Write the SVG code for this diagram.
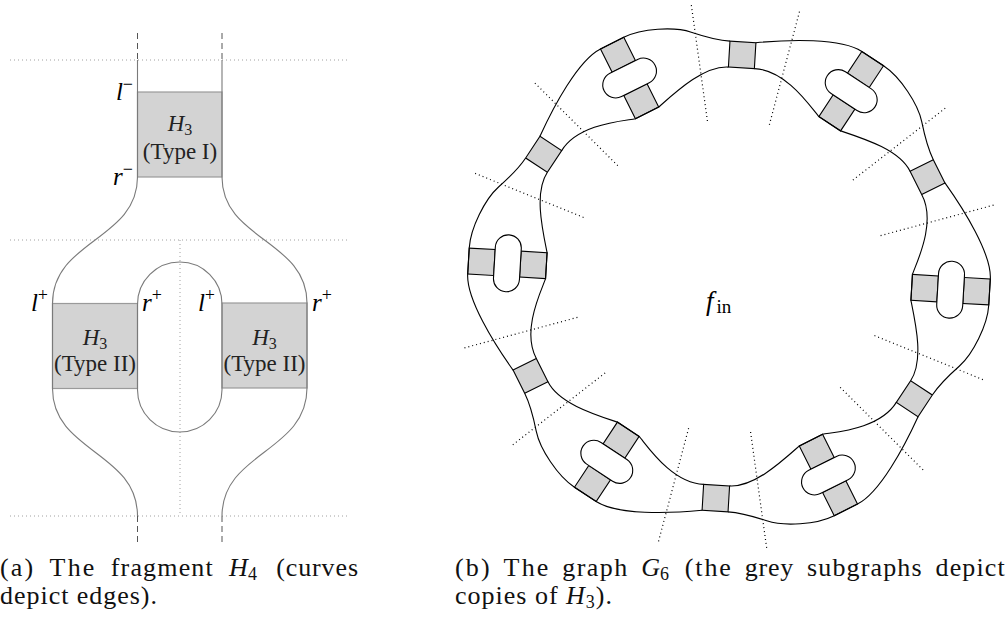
<svg xmlns="http://www.w3.org/2000/svg" width="1008" height="621" viewBox="0 0 1008 621">
<style>
.ldot{fill:none;stroke:#a0a0a0;stroke-width:1;stroke-dasharray:1 3}
.ledge{fill:none;stroke:#7a7a7a;stroke-width:1.1}
.ldash{fill:none;stroke:#555;stroke-width:1;stroke-dasharray:6 4}
.lbox{fill:#d3d3d3;stroke:#9a9a9a;stroke-width:1.2}
text{font-family:'Liberation Serif','Times New Roman','DejaVu Serif',serif;fill:#000}
.it{font-style:italic}
.boxt{font-size:23px;fill:#222}
.lab{font-size:25px}
.cap{font-size:26px;fill:#111}
.redge{fill:none;stroke:#000;stroke-width:1.1}
.rsq{fill:#d3d3d3;stroke:#000;stroke-width:1.1}
.roval{fill:#fff;stroke:#000;stroke-width:1.1}
.rdot{fill:none;stroke:#000;stroke-width:1.2;stroke-dasharray:1 3}
</style>
<defs>
<g id="sector">
<path class="rdot" d="M31.3,-153.85L54.63,-268.5M117.95,-103.62L205.85,-180.84"/>
<rect class="rsq" x="-13" y="-235" width="26" height="26"/>
<g transform="rotate(30)">
<rect class="rsq" x="-13" y="-261" width="26" height="26"/>
<rect class="rsq" x="-13" y="-209" width="26" height="26"/>
<rect class="roval" x="-28.5" y="-235" width="57" height="26" rx="13"/>
</g>
<path class="redge" d="M13,-235C45,-240 97.6,-245 119.24,-232.53L141.76,-219.53C159.1,-209.5 178.5,-183.4 183.2,-166C186.3,-154.4 191,-139.2 197.02,-128.76"/>
<path class="redge" d="M13,-209C45,-210 72.5,-172.7 80.24,-164.98L102.76,-151.98C126.9,-145.5 162.49,-136.54 174.49,-115.76"/>
</g>
</defs>

<!-- (a) fragment H4 -->
<g id="h4" font-family="Liberation Serif, serif">
<g id="h4-guides">
<path class="ldot" d="M10,60H347M10,240H347M10,516H347M180,240V516"/>
<path class="ldash" d="M137.5,33V60M222,33V60M137.5,516V545M222,516V545"/>
</g>
<g id="h4-type1">
<rect class="lbox" x="137.5" y="92" width="84.5" height="85"/>
<text class="boxt" x="180" y="131" text-anchor="middle" font-family="Liberation Serif, serif"><tspan class="it">H</tspan><tspan font-size="16" dy="4">3</tspan></text>
<text class="boxt" x="180" y="159" text-anchor="middle" font-family="Liberation Serif, serif">(Type I)</text>
</g>
<g id="h4-type2-left">
<rect class="lbox" x="52.5" y="303.5" width="85" height="85"/>
<text class="boxt" x="95" y="345" text-anchor="middle" font-family="Liberation Serif, serif"><tspan class="it">H</tspan><tspan font-size="16" dy="4">3</tspan></text>
<text class="boxt" x="95" y="371" text-anchor="middle" font-family="Liberation Serif, serif">(Type II)</text>
</g>
<g id="h4-type2-right">
<rect class="lbox" x="222" y="303" width="85" height="85"/>
<text class="boxt" x="264.5" y="345" text-anchor="middle" font-family="Liberation Serif, serif"><tspan class="it">H</tspan><tspan font-size="16" dy="4">3</tspan></text>
<text class="boxt" x="264.5" y="371" text-anchor="middle" font-family="Liberation Serif, serif">(Type II)</text>
</g>
<g id="h4-edges">
<path class="ledge" d="M137.5,60V177C137.5,240 52.5,240 52.5,303.5V388.5C52.5,452 137.5,452 137.5,516"/>
<path class="ledge" d="M222,60V177C222,240 307,240 307,303V388C307,452 222,452 222,516"/>
<path class="ledge" d="M137.5,304.25A42.25,42.25 0 0 1 222,304.25V389.75A42.25,42.25 0 0 1 137.5,389.75Z"/>
</g>
<g id="h4-labels" font-family="Liberation Serif, serif">
<text class="lab it" x="133" y="100" text-anchor="end">l<tspan font-style="normal" font-size="18" dy="-10">−</tspan></text>
<text class="lab it" x="133" y="185" text-anchor="end">r<tspan font-style="normal" font-size="18" dy="-10">−</tspan></text>
<text class="lab it" x="48" y="311" text-anchor="end">l<tspan font-style="normal" font-size="18" dy="-10">+</tspan></text>
<text class="lab it" x="142" y="311">r<tspan font-style="normal" font-size="18" dy="-10">+</tspan></text>
<text class="lab it" x="215" y="311" text-anchor="end">l<tspan font-style="normal" font-size="18" dy="-10">+</tspan></text>
<text class="lab it" x="312" y="311">r<tspan font-style="normal" font-size="18" dy="-10">+</tspan></text>
</g>
</g>

<!-- (b) graph G6 -->
<g id="g6" transform="translate(729,276.5) rotate(3.4)">
<g id="g6-fragment-1"><use href="#sector"/></g>
<g id="g6-fragment-2" transform="rotate(60)"><use href="#sector"/></g>
<g id="g6-fragment-3" transform="rotate(120)"><use href="#sector"/></g>
<g id="g6-fragment-4" transform="rotate(180)"><use href="#sector"/></g>
<g id="g6-fragment-5" transform="rotate(240)"><use href="#sector"/></g>
<g id="g6-fragment-6" transform="rotate(300)"><use href="#sector"/></g>
</g>
<g id="g6-face" font-family="Liberation Serif, serif">
<text x="706" y="310" font-size="27"><tspan class="it">f</tspan><tspan font-size="19" dx="3" dy="3">in</tspan></text>
</g>

<!-- captions -->
<g id="captions" font-family="Liberation Serif, serif">
<text class="cap" x="0" y="576" textLength="33.2">(a)</text>
<text class="cap" x="49.6" y="576" textLength="44.8">The</text>
<text class="cap" x="110.8" y="576" textLength="101.9">fragment</text>
<text class="cap" x="229.1" y="576"><tspan class="it">H</tspan><tspan font-size="18" dy="4">4</tspan></text>
<text class="cap" x="276.2" y="576" textLength="81.8">(curves</text>
<text class="cap" x="0" y="604" textLength="157">depict edges).</text>
<text class="cap" x="455" y="576" textLength="34.7">(b)</text>
<text class="cap" x="503.6" y="576" textLength="44.8">The</text>
<text class="cap" x="562.2" y="576" textLength="65.1">graph</text>
<text class="cap" x="641.2" y="576"><tspan class="it">G</tspan><tspan font-size="18" dy="4">6</tspan></text>
<text class="cap" x="684.7" y="576" textLength="46.2">(the</text>
<text class="cap" x="744.8" y="576" textLength="48.5">grey</text>
<text class="cap" x="807.1" y="576" textLength="114.5">subgraphs</text>
<text class="cap" x="935.5" y="576" textLength="69.3">depict</text>
<text class="cap" x="455" y="604" textLength="157">copies of <tspan class="it">H</tspan><tspan font-size="18" dy="4">3</tspan><tspan dy="-4">).</tspan></text>
</g>
</svg>
